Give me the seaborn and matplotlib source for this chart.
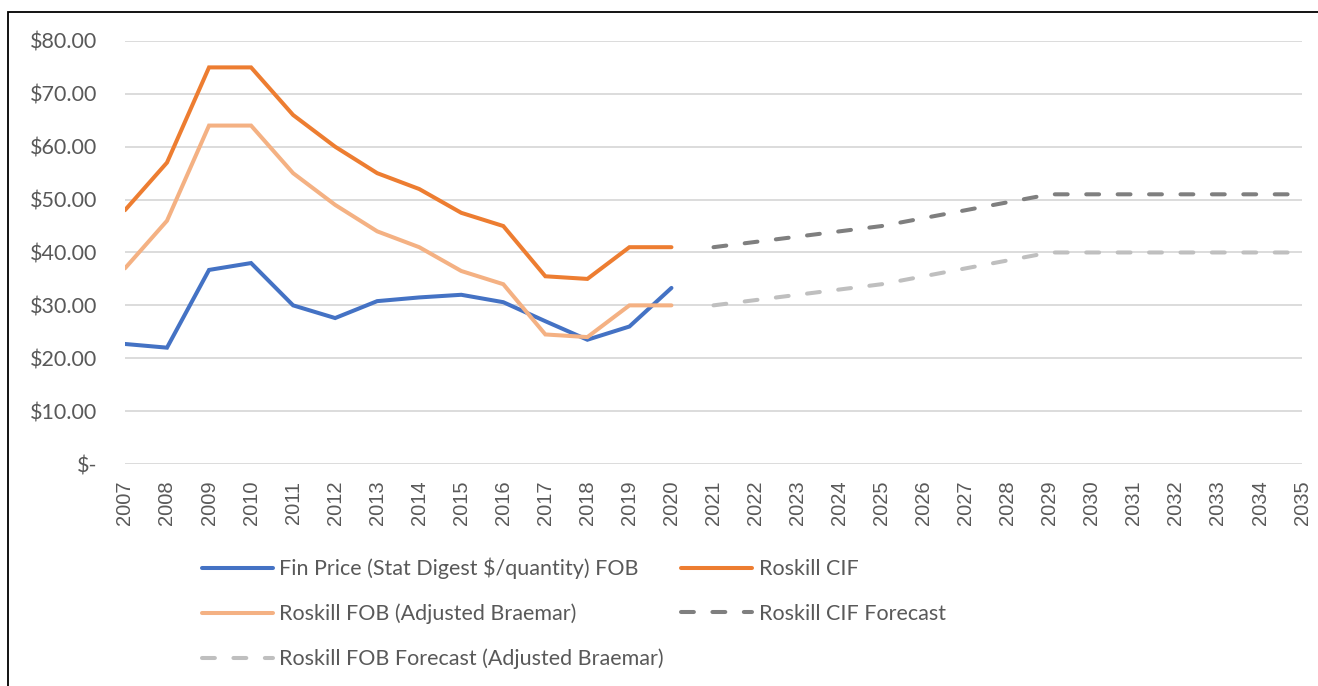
import numpy as np
import pandas as pd
import matplotlib
matplotlib.use("Agg")
import matplotlib.pyplot as plt
from matplotlib.patches import Rectangle
import seaborn as sns

# historical series
years_hist = [2007, 2008, 2009, 2010, 2011, 2012, 2013, 2014, 2015, 2016, 2017, 2018, 2019, 2020]
fin_price = [22.7, 22.0, 36.7, 38.0, 30.0, 27.6, 30.8, 31.5, 32.0, 30.6, 27.0, 23.5, 26.0, 33.3]
roskill_cif = [48, 57, 75, 75, 66, 60, 55, 52, 47.5, 45, 35.5, 35, 41, 41]
roskill_fob = [37, 46, 64, 64, 55, 49, 44, 41, 36.5, 34, 24.5, 24, 30, 30]

# forecast series
years_fc = list(range(2021, 2036))
cif_forecast = [41, 42, 43, 44, 45, 46.5, 48, 49.5, 51, 51, 51, 51, 51, 51, 51]
fob_forecast = [30, 31, 32, 33, 34, 35.5, 37, 38.5, 40, 40, 40, 40, 40, 40, 40]

all_years = list(range(2007, 2036))
y_ticks = [0, 10, 20, 30, 40, 50, 60, 70, 80]
y_labels = ["$-", "$10.00", "$20.00", "$30.00", "$40.00", "$50.00", "$60.00", "$70.00", "$80.00"]

labels = ["Fin Price (Stat Digest $/quantity) FOB", "Roskill CIF", "Roskill FOB (Adjusted Braemar)",
          "Roskill CIF Forecast", "Roskill FOB Forecast (Adjusted Braemar)"]
colors = ["#4472C4", "#ED7D31", "#F4B183", "#7F7F7F", "#BFBFBF"]

sns.set_style("white")
plt.rcParams['font.family'] = ['Lato', 'DejaVu Sans']

hist = pd.DataFrame({"year": years_hist, labels[0]: fin_price, labels[1]: roskill_cif, labels[2]: roskill_fob})
fc = pd.DataFrame({"year": years_fc, labels[3]: cif_forecast, labels[4]: fob_forecast})

fig = plt.figure(figsize=(13.18, 6.86), dpi=100)
ax = fig.add_axes([0.0948, 0.3236, 0.8931, 0.6167])

lw = 2.9
for i in range(3):
    sns.lineplot(data=hist, x="year", y=labels[i], ax=ax, color=colors[i], lw=lw,
                 label=labels[i], solid_capstyle="round", solid_joinstyle="miter")
for i in range(3, 5):
    sns.lineplot(data=fc, x="year", y=labels[i], ax=ax, color=colors[i], lw=lw,
                 label=labels[i], linestyle=(0, (3.2, 4.6)), dash_capstyle="round")

ax.set_xlim(2007, 2035)
ax.set_ylim(0, 80)
ax.set_xticks(all_years)
ax.set_xticklabels([str(y) for y in all_years], rotation=90, fontsize=14.5, color="#595959",
                   family="Liberation Sans")
ax.set_yticks(y_ticks)
ax.set_yticklabels(y_labels, fontsize=15.5, color="#595959")
ax.tick_params(axis="both", length=0)
ax.tick_params(axis="y", pad=20)
ax.tick_params(axis="x", pad=12)
ax.grid(axis="y", color="#D9D9D9", lw=1.3)
ax.set_axisbelow(True)
for s in ax.spines.values():
    s.set_visible(False)
ax.set_xlabel("")
ax.set_ylabel("")

# legend: row-wise order in the original -> column-major order here
h, l = ax.get_legend_handles_labels()
ax.get_legend().remove()
order = [0, 2, 4, 1, 3]
fig.legend([h[k] for k in order], [l[k] for k in order], ncol=2, frameon=False,
           loc="upper left", bbox_to_anchor=(0.145, 0.2027), fontsize=15.5, borderpad=0,
           handlelength=3.3, handletextpad=0.3, columnspacing=0.8, labelspacing=1.14,
           labelcolor="#595959")

# outer frame of the embedded chart
fig.add_artist(Rectangle((0.006, -0.05), 1.2, 0.9825 + 0.05, transform=fig.transFigure,
                         fill=False, lw=1.3, edgecolor="black"))

fig.savefig("out.png", dpi=100)
